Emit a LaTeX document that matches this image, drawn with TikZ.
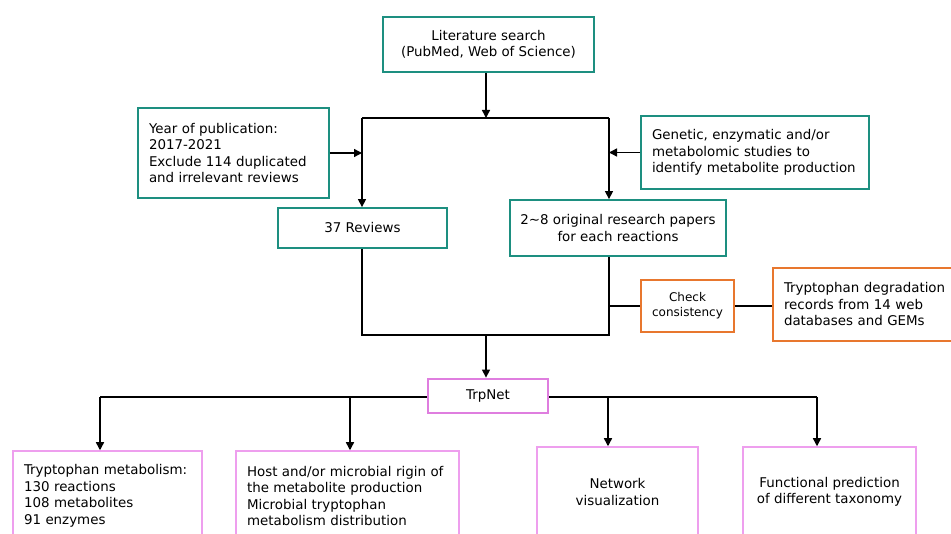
\documentclass[tikz,border=0pt]{standalone}
\usepackage{fontspec}
\setmainfont{DejaVu Sans}
\usetikzlibrary{arrows.meta}
\definecolor{teal1}{HTML}{1D8F80}
\definecolor{orange1}{HTML}{E8772E}
\definecolor{pinkA}{HTML}{DF7EDF}
\definecolor{pinkB}{HTML}{EE9FEE}
\tikzset{
  base/.style={rectangle, inner sep=0pt, font=\fontsize{13.4}{16.5}\selectfont},
  tealbox/.style={base, draw=teal1, line width=1.8pt},
  orgbox/.style={base, draw=orange1, line width=1.6pt},
  trpbox/.style={base, draw=pinkA, line width=2.8pt},
  pinkbox/.style={base, draw=pinkB, line width=1.5pt},
  conn/.style={draw=black, line width=1.4pt},
  arr/.style={conn, -{Triangle[length=8pt,width=8pt]}},
}
\begin{document}
\begin{tikzpicture}[x=1pt,y=-1pt]
\clip (0,0) rectangle (951,534);
\fill[white] (0,0) rectangle (951,534);
% nodes
\node[tealbox, minimum width=211, minimum height=55, align=center] (lit) at (488.5,44.5) {Literature search\\(PubMed, Web of Science)};
\node[tealbox, minimum width=191, minimum height=90, text width=169, align=left] (year) at (233.5,153) {Year of publication:\\2017-2021\\Exclude 114 duplicated\\and irrelevant reviews};
\node[tealbox, minimum width=228, minimum height=73, text width=206, align=left] (gen) at (755,152.5) {Genetic, enzymatic and/or\\metabolomic studies to\\identify metabolite production};
\node[tealbox, minimum width=169, minimum height=40, align=center] (rev) at (362.5,228) {37 Reviews};
\node[tealbox, minimum width=216, minimum height=56, align=center] (orig) at (618,228) {2\textasciitilde 8 original research papers\\for each reactions};
\node[orgbox, minimum width=93, minimum height=52, align=center, font=\fontsize{12}{15}\selectfont] (chk) at (687.5,306) {Check\\consistency};
\node[orgbox, minimum width=184, minimum height=73, text width=162, align=left] (tdeg) at (865,304.5) {Tryptophan degradation\\records from 14 web\\databases and GEMs};
\node[trpbox, minimum width=120, minimum height=34, align=center] (trp) at (488,396) {TrpNet};
\node[pinkbox, minimum width=189, minimum height=90, text width=167, align=left] (b1) at (107.5,496) {Tryptophan metabolism:\\130 reactions\\108 metabolites\\91 enzymes};
\node[pinkbox, minimum width=223, minimum height=90, text width=201, align=left] (b2) at (347.5,496) {Host and/or microbial rigin of\\the metabolite production\\Microbial tryptophan\\metabolism distribution};
\node[pinkbox, minimum width=161, minimum height=90, align=center] (b3) at (617.5,492) {Network\\visualization};
\node[pinkbox, minimum width=173, minimum height=90, align=center] (b4) at (829.5,492) {Functional prediction\\of different taxonomy};
% junction coordinates
\coordinate (jt) at (486,118);
\coordinate (jl) at (362,118);
\coordinate (jr) at (609,118);
\coordinate (bl) at (362,335);
\coordinate (bm) at (486,335);
\coordinate (br) at (609,335);
\coordinate (cj) at (609,306);
\coordinate (a1) at (100,397);
\coordinate (a2) at (350,397);
\coordinate (a3) at (608,397);
\coordinate (a4) at (817,397);
% connectors
\draw[arr] (lit.south -| jt) -- (jt);
\draw[conn] (jl) -- (jr);
\draw[arr] (jl) -- (jl |- rev.north);
\draw[arr] (jr) -- (jr |- orig.north);
\draw[arr] (year.east) -- (year.east -| jl);
\draw[arr] (gen.west) -- (gen.west -| jr);
\draw[conn] (rev.south -| bl) -- (bl) -- (br) -- (br |- orig.south);
\draw[conn] (cj) -- (chk.west);
\draw[conn] (chk.east) -- (chk.east -| tdeg.west);
\draw[arr] (bm) -- (bm |- trp.north);
\draw[conn] (trp.west |- a1) -- (a1);
\draw[conn] (trp.east |- a4) -- (a4);
\draw[arr] (a1) -- (a1 |- b1.north);
\draw[arr] (a2) -- (a2 |- b2.north);
\draw[arr] (a3) -- (a3 |- b3.north);
\draw[arr] (a4) -- (a4 |- b4.north);
\end{tikzpicture}
\end{document}
